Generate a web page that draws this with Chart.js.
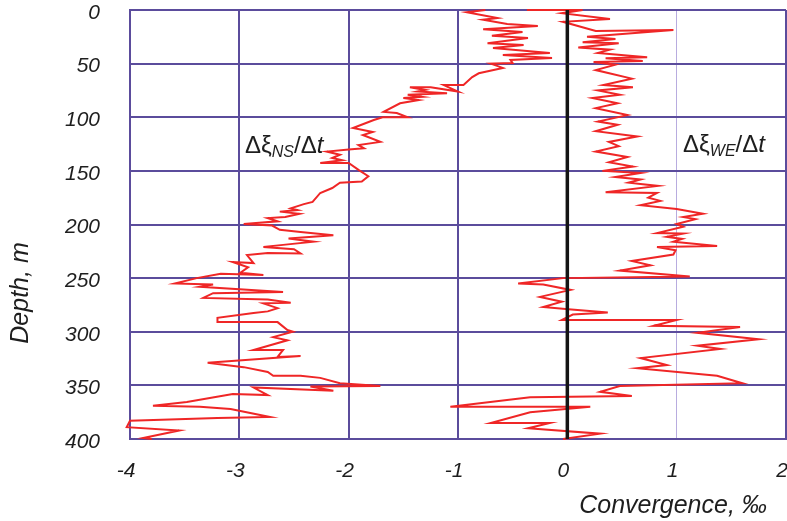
<!DOCTYPE html>
<html>
<head>
<meta charset="utf-8">
<script src="https://cdn.jsdelivr.net/npm/chart.js@4"></script>
<style>
  body { margin: 0; background: #fff; }
  #wrap { width: 787px; height: 521px; }
</style>
</head>
<body>
<div id="wrap"><canvas id="chart"></canvas></div>
<script>
// depth in m, rate in per mille
var nsDepth = [0, 2, 7.5, 9, 13, 15, 18, 20.5, 24, 26, 31, 32.6, 35.5, 40, 42, 44.7, 46.6, 49.5, 50, 54,
  59, 62.5, 70, 70, 76, 72, 72, 74.5, 76, 77.6, 79, 81, 82, 84, 87, 95, 96, 100, 100, 102.6,
  110, 113.7, 116.6, 123, 126, 129, 130, 132, 135, 138, 140, 142.6, 142.6, 149, 155, 160, 161, 166, 170.6, 179,
  181, 185, 186.5, 188, 190, 193, 194, 197, 199.5, 201, 205, 207, 210, 213, 216, 219, 221, 223, 227, 226.5,
  228.5, 236, 235, 240, 245, 247, 246, 250, 255, 256, 258, 263, 264, 268.5, 270, 273, 273.5, 278, 281, 282.6,
  287, 291, 291, 298.4, 300, 305, 308, 317, 317, 323.5, 322.6, 329, 333, 337.5, 341, 341, 343, 348, 350.6, 351,
  355, 352, 359, 358, 365.5, 369, 370, 372, 379.5, 380.5, 383, 389, 392, 399, 400];
var nsRate = [-0.75, -0.92, -0.64, -0.77, -0.55, -0.27, -0.77, -0.41, -0.69, -0.36, -0.73, -0.40, -0.68, -0.16, -0.59, -0.14, -0.52, -0.50, -0.70, -0.59,
  -0.81, -0.87, -0.95, -1.13, -1.00, -1.25, -1.44, -1.30, -1.37, -1.10, -1.46, -1.33, -1.50, -1.36, -1.53, -1.68, -1.56, -1.46, -1.69, -1.77,
  -1.96, -1.78, -1.87, -1.71, -1.91, -1.86, -2.00, -2.20, -2.08, -2.15, -2.06, -2.26, -2.00, -1.91, -1.82, -1.88, -2.08, -2.15, -2.26, -2.33,
  -2.41, -2.53, -2.47, -2.63, -2.45, -2.58, -2.74, -2.65, -2.96, -2.70, -2.63, -2.44, -2.14, -2.55, -2.32, -2.60, -2.78, -2.50, -2.44, -2.74,
  -2.93, -2.87, -3.06, -2.92, -2.99, -2.78, -3.17, -3.39, -3.59, -3.24, -3.36, -2.60, -3.24, -3.33, -2.74, -2.53, -2.78, -2.65, -2.74, -2.87,
  -3.20, -3.20, -2.65, -2.56, -2.51, -2.69, -2.56, -2.87, -2.60, -2.65, -2.44, -3.29, -2.96, -2.74, -2.69, -2.44, -2.26, -2.08, -1.71, -2.35,
  -2.14, -2.87, -2.74, -3.06, -3.48, -3.79, -3.36, -3.08, -2.72, -3.20, -4.00, -4.03, -3.55, -3.88, -3.80];

var weDepth = [0, 0, 3, 8.4, 11, 19.6, 18.6, 25, 27, 30, 31, 35, 37, 40, 44, 45, 47.5, 48.5, 51, 56,
  64, 70, 72, 75, 79, 82, 87, 91.5, 98, 104, 107, 113, 118, 123, 127, 132, 137, 142, 146, 150,
  152, 155.7, 158, 161, 164, 170, 170.6, 175, 178, 182, 185.5, 190, 193, 195, 199.5, 202, 208, 208.5, 211.5, 213.5,
  216, 220, 221, 224, 228, 234, 238, 243, 248.5, 250, 255, 256, 261, 267.5, 272, 277, 279, 282, 284, 289,
  289, 294.5, 295.6, 301, 307, 313, 316, 324.5, 331, 334, 341, 348, 350.6, 356, 360, 361, 370, 370, 375, 385,
  385, 390, 395, 400];
var weRate = [-0.37, 0.14, -0.05, 0.39, -0.04, 0.26, 0.97, 0.18, 0.44, 0.14, 0.47, 0.10, 0.39, 0.28, 0.73, 0.35, 0.69, 0.24, 0.44, 0.26,
  0.59, 0.33, 0.60, 0.28, 0.48, 0.23, 0.46, 0.26, 0.55, 0.28, 0.46, 0.26, 0.64, 0.38, 0.47, 0.26, 0.55, 0.38, 0.60, 0.32,
  0.67, 0.44, 0.67, 0.56, 0.83, 0.35, 0.82, 0.74, 0.85, 0.67, 1.00, 1.24, 1.06, 1.17, 1.00, 1.06, 0.82, 1.06, 0.91, 1.05,
  0.97, 1.37, 0.82, 0.99, 0.97, 0.59, 0.76, 0.48, 1.12, -0.04, -0.45, -0.22, 0.03, -0.25, -0.05, -0.22, 0.01, 0.37, 0.05, -0.05,
  1.00, 0.79, 1.58, 1.19, 1.75, 1.19, 1.40, 0.67, 0.91, 0.64, 1.37, 1.60, 0.48, 0.30, 0.59, -0.34, -1.07, 0.21, -0.34, -0.70,
  -0.16, -0.36, 0.30, -0.04];

var gridColor = '#5b4c9c';
var fontFamily = '"Liberation Sans", Arial, sans-serif';

function toPoints(rate, depth) {
  var pts = [];
  for (var i = 0; i < rate.length; i++) {
    pts.push({ x: rate[i], y: depth[i] });
  }
  return pts;
}

// no extra room for the end labels, the plot box is fixed
function noPadding(scale) {
  scale.paddingTop = 0;
  scale.paddingBottom = 0;
  scale.paddingLeft = 0;
  scale.paddingRight = 0;
}

// draws text runs (normal / italic / subscript) one after the other
function drawRuns(ctx, x, y, runs) {
  runs.forEach(function(r) {
    ctx.font = r.font;
    ctx.fillText(r.t, x, y + (r.dy || 0));
    x += ctx.measureText(r.t).width;
  });
}

var textPlugin = {
  id: 'texts',
  afterDraw: function(chart) {
    var ctx = chart.ctx;
    ctx.save();
    ctx.fillStyle = '#1e1e1e';
    ctx.textAlign = 'left';
    ctx.textBaseline = 'alphabetic';

    var big = '24px ' + fontFamily;
    var sub = 'italic 16px ' + fontFamily;
    var it = 'italic 24px ' + fontFamily;
    drawRuns(ctx, 245, 153, [
      { t: 'Δξ', font: big }, { t: 'NS', font: sub, dy: 4 },
      { t: '/Δ', font: big }, { t: 't', font: it }
    ]);
    drawRuns(ctx, 683, 152, [
      { t: 'Δξ', font: big }, { t: 'WE', font: sub, dy: 4 },
      { t: '/Δ', font: big }, { t: 't', font: it }
    ]);

    // axis titles
    ctx.font = 'italic 25px ' + fontFamily;
    ctx.textAlign = 'center';
    ctx.textBaseline = 'middle';
    ctx.fillText('Convergence, ‰', 673, 506);

    ctx.translate(21, 293);
    ctx.rotate(-Math.PI / 2);
    ctx.fillText('Depth, m', 0, 0);
    ctx.restore();
  }
};

new Chart(document.getElementById('chart'), {
  type: 'scatter',
  data: {
    datasets: [
      {
        label: 'zero',
        data: [{ x: 0, y: 0 }, { x: 0, y: 400 }],
        showLine: true,
        borderColor: '#141414',
        borderWidth: 3.5,
        pointRadius: 0,
        order: 0
      },
      {
        label: 'NS',
        data: toPoints(nsRate, nsDepth),
        showLine: true,
        borderColor: '#ef2626',
        borderWidth: 2,
        pointRadius: 0,
        clip: false,
        order: 1
      },
      {
        label: 'WE',
        data: toPoints(weRate, weDepth),
        showLine: true,
        borderColor: '#ef2626',
        borderWidth: 2,
        pointRadius: 0,
        clip: false,
        order: 1
      }
    ]
  },
  options: {
    responsive: true,
    maintainAspectRatio: false,
    animation: false,
    layout: { padding: { top: 10, right: 1, left: 0, bottom: 0 } },
    plugins: {
      legend: { display: false },
      tooltip: { enabled: false }
    },
    scales: {
      x: {
        type: 'linear',
        min: -4,
        max: 2,
        afterFit: function(scale) { scale.height = 82; noPadding(scale); },
        ticks: {
          stepSize: 1,
          padding: 20,
          labelOffset: -4,
          maxRotation: 0,
          color: '#1e1e1e',
          font: { family: fontFamily, size: 21, style: 'italic' }
        },
        grid: {
          drawTicks: false,
          color: function(c) { return c.tick && c.tick.value === 1 ? '#b8acdf' : gridColor; },
          lineWidth: function(c) { return c.tick && c.tick.value === 1 ? 1 : 2; }
        },
        border: { color: gridColor, width: 2 }
      },
      y: {
        type: 'linear',
        reverse: true,
        min: 0,
        max: 400,
        afterFit: function(scale) { scale.width = 130; noPadding(scale); },
        ticks: {
          stepSize: 50,
          padding: 30,
          labelOffset: 3,
          color: '#1e1e1e',
          font: { family: fontFamily, size: 21, style: 'italic' }
        },
        grid: {
          drawTicks: false,
          color: gridColor,
          lineWidth: 2
        },
        border: { color: gridColor, width: 2 }
      }
    }
  },
  plugins: [textPlugin]
});
</script>
</body>
</html>
